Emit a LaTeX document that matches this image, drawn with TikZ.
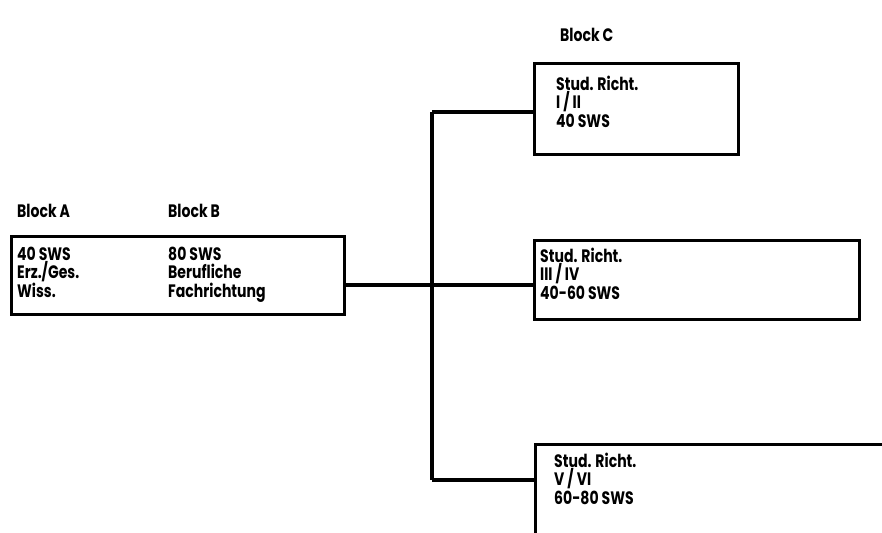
\documentclass[tikz,border=0pt]{standalone}
\usepackage{fontspec}
\setmainfont[FakeStretch=0.78]{Poppins}
\usetikzlibrary{math,positioning}

\begin{document}
\begin{tikzpicture}[x=1pt,y=-1pt,
  box/.style={draw, line width=3.4pt, rectangle, inner sep=0pt, anchor=north west},
  txt/.style={anchor=north west, align=left, inner sep=0pt,
    font=\fontsize{18}{18.3}\selectfont\bfseries},
  lbl/.style={anchor=base west, inner sep=0pt,
    font=\fontsize{18}{18.3}\selectfont\bfseries},
  wire/.style={line width=3.2pt}]
\tikzmath{
\W=882;
\H=532;
\xj=432;
}
\useasboundingbox (0,0) rectangle (\W,\H);
\clip (0,0) rectangle (\W,\H);

%block A/B
\node[box, minimum width=333pt, minimum height=78pt] (boxAB) at (10,235) {};
\node[lbl] (lblA) at (17,217) {Block A};
\node[lbl] (lblB) at (168,217) {Block B};
\node[txt] (txtA) at (17,247) {40 SWS\\Erz./Ges.\\Wiss.};
\node[txt] (txtB) at (168,247) {80 SWS\\Berufliche\\Fachrichtung};

%block C
\node[lbl] (lblC) at (560,42) {Block C};
\node[box, minimum width=204pt, minimum height=91pt] (boxI) at (533,62) {};
\node[box, minimum width=325pt, minimum height=79pt] (boxIII) at (533,239) {};
\node[box, minimum width=400pt, minimum height=150pt] (boxV) at (534,443) {};
\node[txt] (txtI) at (556,76) {Stud. Richt.\\I / II\\40 SWS};
\node[txt] (txtIII) at (540,248) {Stud. Richt.\\III / IV\\40-60 SWS};
\node[txt] (txtV) at (554,453) {Stud. Richt.\\V / VI\\60-80 SWS};

%wires
\coordinate (jtop) at (\xj,112);
\coordinate (jmid) at (\xj,285);
\coordinate (jbot) at (\xj,480);
\draw[wire] (jmid -| boxAB.east) -- (jmid -| boxIII.west);
\draw[wire] (jtop) -- (jbot);
\draw[wire] (jtop) -- (jtop -| boxI.west);
\draw[wire] (jbot) -- (jbot -| boxV.west);
\end{tikzpicture}
\end{document}
